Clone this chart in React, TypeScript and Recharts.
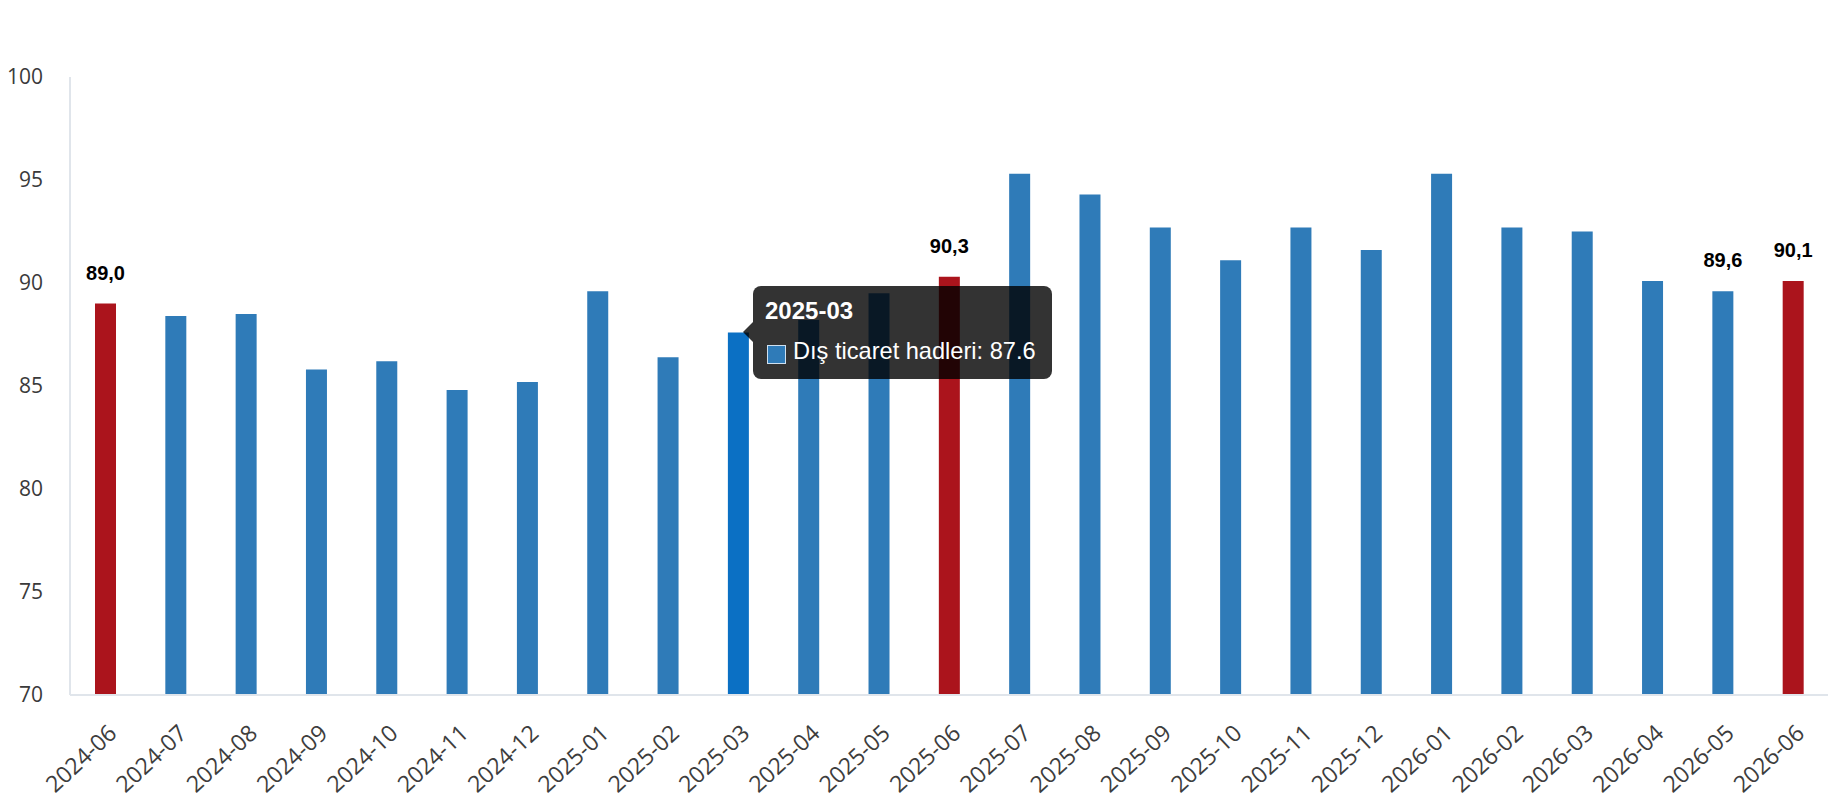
import React from 'react';
import { BarChart, Bar, XAxis, YAxis, Tooltip, Cell, LabelList } from 'recharts';

const months = [
  '2024-06', '2024-07', '2024-08', '2024-09', '2024-10', '2024-11', '2024-12',
  '2025-01', '2025-02', '2025-03', '2025-04', '2025-05', '2025-06', '2025-07',
  '2025-08', '2025-09', '2025-10', '2025-11', '2025-12', '2026-01', '2026-02',
  '2026-03', '2026-04', '2026-05', '2026-06',
];
const values = [
  89.0, 88.4, 88.5, 85.8, 86.2, 84.8, 85.2,
  89.6, 86.4, 87.6, 88.2, 89.5, 90.3, 95.3,
  94.3, 92.7, 91.1, 92.7, 91.6, 95.3, 92.7,
  92.5, 90.1, 89.6, 90.1,
];
const redMonths = ['2024-06', '2025-06', '2026-06'];
const labelledMonths = ['2024-06', '2025-06', '2026-05', '2026-06'];
const hoveredMonth = '2025-03';
const yTicks = [70, 75, 80, 85, 90, 95, 100];
const seriesName = 'Dış ticaret hadleri';

const data = months.map((m, i) => ({ month: m, value: values[i] }));

const BLUE = '#2f7bb8';
const BLUE_HOVER = '#0b70c4';
const RED = '#ab141c';
const AXIS = '#e0e5eb';

const XTick = (props: any) => {
  const { x, y, payload } = props;
  const px = x + 13;
  const py = y + 40;
  return (
    <text
      x={px}
      y={py}
      transform={`rotate(-43, ${px}, ${py})`}
      textAnchor="end"
      fill="#3d3d3d"
      fontSize={23}
      fontFamily="'Open Sans', sans-serif"
    >
      {payload.value}
    </text>
  );
};

const ValueLabel = (props: any) => {
  const { x, y, width, value, index } = props;
  if (!labelledMonths.includes(months[index])) return null;
  return (
    <text
      x={x + width / 2}
      y={y - 24}
      textAnchor="middle"
      fill="#000"
      fontSize={20}
      fontWeight="bold"
      fontFamily="'Liberation Sans', Arial, sans-serif"
    >
      {Number(value).toFixed(1).replace('.', ',')}
    </text>
  );
};

const TipContent = (props: any) => {
  const { payload, label } = props;
  if (!payload || !payload.length) return null;
  const item = payload[0];
  return (
    <div
      style={{
        position: 'relative',
        width: 299,
        height: 93,
        background: 'rgba(0,0,0,0.8)',
        borderRadius: 8,
        fontFamily: "'Liberation Sans', Arial, sans-serif",
        color: '#fff',
      }}
    >
      <div
        style={{
          position: 'absolute',
          left: -10,
          top: 36,
          width: 0,
          height: 0,
          borderTop: '10px solid transparent',
          borderBottom: '10px solid transparent',
          borderRight: '10px solid rgba(0,0,0,0.8)',
        }}
      />
      <div
        style={{
          position: 'absolute',
          left: 12,
          top: 13,
          fontSize: 24,
          lineHeight: '24px',
          fontWeight: 'bold',
          whiteSpace: 'nowrap',
        }}
      >
        {label}
      </div>
      <div
        style={{
          position: 'absolute',
          left: 14,
          top: 59,
          width: 17,
          height: 17,
          background: BLUE,
          border: '1px solid #cfe0f0',
        }}
      />
      <div
        style={{
          position: 'absolute',
          left: 40,
          top: 53,
          fontSize: 23.6,
          lineHeight: '24px',
          whiteSpace: 'nowrap',
        }}
      >
        {`${item.name}: ${item.value}`}
      </div>
    </div>
  );
};

export default function App() {
  return (
    <div style={{ position: 'absolute', left: 0, top: 0, width: 1830, height: 800, background: '#fff' }}>
      <BarChart
        width={1830}
        height={800}
        data={data}
        margin={{ top: 77, right: 2, bottom: 0, left: 0 }}
        barCategoryGap={0}
      >
        <YAxis
          domain={[70, 100]}
          ticks={yTicks}
          width={70}
          tickLine={false}
          tickSize={0}
          tickMargin={27}
          axisLine={{ stroke: AXIS, strokeWidth: 2 }}
          tick={{ fill: '#3a3a3a', fontSize: 21, fontFamily: "'Open Sans', sans-serif" }}
          allowDataOverflow
        />
        <XAxis
          dataKey="month"
          height={105}
          interval={0}
          tickLine={false}
          tickSize={0}
          tickMargin={0}
          axisLine={{ stroke: AXIS, strokeWidth: 2 }}
          tick={<XTick />}
        />
        <Tooltip
          defaultIndex={9}
          active
          cursor={false}
          position={{ x: 753, y: 286 }}
          isAnimationActive={false}
          wrapperStyle={{ outline: 'none', zIndex: 10 }}
          content={<TipContent />}
        />
        <Bar
          dataKey="value"
          name={seriesName}
          barSize={21}
          fill={BLUE}
          activeBar={false}
          isAnimationActive={false}
        >
          {data.map((d) => (
            <Cell
              key={d.month}
              fill={redMonths.includes(d.month) ? RED : d.month === hoveredMonth ? BLUE_HOVER : BLUE}
            />
          ))}
          <LabelList dataKey="value" content={<ValueLabel />} />
        </Bar>
      </BarChart>
    </div>
  );
}
